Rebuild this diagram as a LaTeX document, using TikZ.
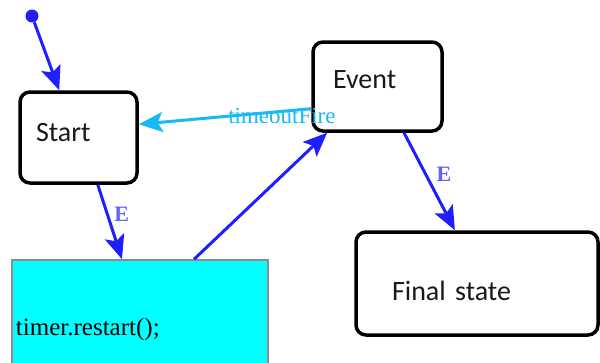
\documentclass[tikz,border=0pt]{standalone}
\usepackage{fontspec}
\setmainfont{Carlito}
\newfontfamily\codefont{Liberation Serif}
\usetikzlibrary{calc,arrows.meta}
\definecolor{trblue}{RGB}{30,30,255}
\definecolor{fireblue}{RGB}{25,185,245}
\definecolor{actcyan}{RGB}{0,255,255}

\begin{document}
\begin{tikzpicture}[x=1pt,y=-1pt,
	state/.style={draw=black, line width=3.5pt, rounded corners=10pt, fill=white, align=left, text=black!90, font=\fontsize{28}{30}\selectfont},
	action/.style={draw=black!45, line width=1.5pt, fill=actcyan, align=left, inner xsep=4pt, font=\codefont\fontsize{25}{27}\selectfont},
	trans/.style={draw=trblue, line width=3pt, -{Stealth[length=24pt,width=20pt,inset=5pt]}},
	fire/.style={draw=fireblue, line width=3pt, -{Stealth[length=24pt,width=20pt,inset=5pt]}},
	evlbl/.style={text=trblue!70, font=\codefont\bfseries\fontsize{22}{24}\selectfont},
	firelbl/.style={text=fireblue, inner sep=0pt, font=\codefont\fontsize{23}{25}\selectfont}]
	\useasboundingbox (0,0) rectangle (600,362);
	\clip (0,0) rectangle (600,362);
	
	% states
	\node[circle, fill=trblue, inner sep=0pt, minimum size=13pt] (init) at (32,16) {};
	\node[state, minimum width=117pt, minimum height=91pt, inner xsep=16pt, text width=85pt, text height=20pt, text depth=12pt] (start) at (78.5,137.5) {Start};
	\node[state, minimum width=129pt, minimum height=89pt, inner xsep=20pt, text width=89pt, text height=20pt, text depth=17pt] (event) at (377.5,86.5) {Event};
	\node[state, minimum width=242pt, minimum height=103pt, inner xsep=36pt, text width=170pt, text height=34pt, text depth=0pt] (final) at (477,283.5) {Final state};
	\node[action, minimum width=256pt, minimum height=106pt, text width=248pt, text height=44pt, text depth=0pt] (restart) at (140,313) {timer.restart();};
	
	% transitions
	\draw[trans] (init) -- ($(start.north west)!0.34!(start.north east)$);
	\draw[trans] ($(start.south west)!0.66!(start.south east)$) -- node[evlbl, pos=0.4, right=2pt]{E} ($(restart.north west)!0.43!(restart.north east)$);
	\draw[trans] ($(restart.north west)!0.71!(restart.north east)$) -- ($(event.south west)!0.12!(event.south east)$);
	\draw[trans] ($(event.south west)!0.70!(event.south east)$) -- node[evlbl, pos=0.43, right=6pt]{E} ($(final.north west)!0.41!(final.north east)$);
	\draw[fire] ($(event.north west)!0.74!(event.south west)$) -- node[firelbl, pos=0.17, yshift=-5pt]{timeoutFire} ($(start.north east)!0.36!(start.south east)$);
\end{tikzpicture}
\end{document}
